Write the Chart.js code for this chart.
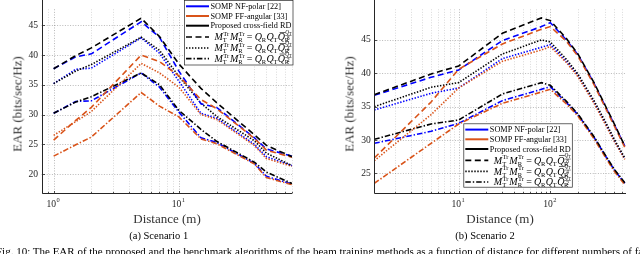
<!DOCTYPE html>
<html><head><meta charset="utf-8">
<script src="https://cdn.jsdelivr.net/npm/chart.js@4.4.1/dist/chart.umd.min.js"></script>
<style>
html,body{margin:0;padding:0;background:#fff;overflow:hidden;width:640px;height:254px;}
#wrap{position:relative;width:640px;height:254px;}
canvas{position:absolute;top:0;}
.t{position:absolute;white-space:nowrap;color:#333;line-height:1;font-family:"Liberation Serif","DejaVu Serif",serif;font-weight:400;}
.rot{transform:translate(-50%,-50%) rotate(-90deg);}
.ctr{transform:translate(-50%,-50%);}
</style></head><body>
<div id="wrap">
<canvas id="c1" width="320" height="254" style="left:0;width:320px;height:254px"></canvas>
<canvas id="c2" width="320" height="254" style="left:320px;width:320px;height:254px"></canvas>
<div class="t rot" style="left:16.5px;top:103.5px;font-size:13px">EAR (bits/sec/Hz)</div>
<div class="t rot" style="left:349px;top:103.5px;font-size:13px">EAR (bits/sec/Hz)</div>
<div class="t ctr" style="left:167px;top:217.5px;font-size:13px">Distance (m)</div>
<div class="t ctr" style="left:500px;top:217.5px;font-size:13px">Distance (m)</div>
<div class="t ctr" style="left:158.7px;top:236px;font-size:10.5px;color:#000">(a) Scenario 1</div>
<div class="t ctr" style="left:485px;top:236px;font-size:10.5px;color:#000">(b) Scenario 2</div>
<div class="t" style="left:-4px;top:246px;font-size:11px;color:#000">Fig. 10: The EAR of the proposed and the benchmark algorithms of the beam training methods as a function of distance for different numbers of fail</div>
</div>
<script>
// ---------- DATA ----------
const x1 = [1, 1.5, 2, 5, 7, 10, 15, 20, 40, 50, 80];
const s1NfDash = [37.7, 39.7, 40.2, 45.6, 43.0, 37.3, 31.8, 31.2, 26.1, 24.2, 23.0];
const s1FfDash = [25.7, 29.0, 31.2, 40.0, 38.9, 36.5, 32.5, 31.0, 26.0, 24.0, 22.8];
const s1RdDash = [37.7, 39.9, 41.2, 46.2, 43.1, 38.5, 34.4, 32.0, 26.6, 24.8, 22.9];
const s1NfDot  = [35.2, 37.6, 37.8, 42.9, 40.3, 35.6, 30.2, 29.4, 25.0, 22.9, 21.4];
const s1FfDot  = [26.5, 28.8, 30.5, 38.6, 37.0, 34.6, 30.0, 29.2, 24.8, 22.6, 21.3];
const s1RdDot  = [35.2, 37.3, 38.4, 43.0, 40.8, 36.4, 31.9, 29.7, 25.6, 23.5, 21.4];
const s1NfDD   = [30.2, 32.2, 32.3, 37.0, 34.6, 30.4, 26.1, 25.3, 21.8, 19.6, 18.3];
const s1FfDD   = [23.0, 24.9, 26.2, 33.7, 31.4, 29.6, 25.9, 25.1, 21.7, 19.4, 18.2];
const s1RdDD   = [30.2, 32.1, 33.0, 37.0, 35.0, 30.7, 27.5, 25.5, 22.0, 20.3, 18.4];

const x2 = [1.2, 5, 10, 30, 80, 100, 150, 200, 300, 400, 500, 650];
const s2NfDash = [36.7, 39.4, 40.5, 44.9, 47.0, 47.6, 45.0, 42.8, 38.5, 35.0, 32.3, 29.1];
const s2FfDash = [27.3, 35.7, 40.6, 44.4, 46.6, 47.0, 44.8, 42.6, 38.3, 34.8, 32.1, 28.9];
const s2RdDash = [36.8, 39.9, 41.1, 46.0, 48.3, 47.9, 45.2, 42.9, 38.6, 35.1, 32.4, 29.1];
const s2NfDot  = [34.5, 37.0, 37.8, 42.2, 43.9, 44.3, 41.8, 39.7, 35.7, 32.5, 29.9, 27.2];
const s2FfDot  = [26.9, 33.8, 37.8, 41.8, 43.5, 44.0, 41.6, 39.5, 35.5, 32.3, 29.8, 27.1];
const s2RdDot  = [35.0, 37.9, 38.6, 42.9, 45.0, 44.7, 42.1, 39.9, 35.9, 32.7, 30.1, 27.3];
const s2NfDD   = [29.5, 31.3, 32.5, 35.9, 37.6, 38.0, 35.6, 33.8, 30.4, 27.6, 25.5, 23.5];
const s2FfDD   = [23.5, 29.5, 32.4, 35.5, 37.2, 37.6, 35.4, 33.6, 30.2, 27.4, 25.3, 23.3];
const s2RdDD   = [30.1, 32.4, 33.0, 36.9, 38.6, 38.2, 35.8, 33.9, 30.5, 27.7, 25.6, 23.6];

const yTicks1 = [20, 25, 30, 35, 40, 45];
const yTicks2 = [25, 30, 35, 40, 45];
const xMajor1 = [1, 10];
const xMajor2 = [10, 100];
const xTickExp1 = ['0', '1'];
const xTickExp2 = ['1', '2'];
const legendLabels = ['SOMP NF-polar [22]', 'SOMP FF-angular [33]', 'Proposed cross-field RD'];
const legendDen = ['8', '4', '2'];

// ---------- STYLE ----------
const FONT = '"Liberation Serif","DejaVu Serif",serif';
const COL = {nf: '#0000ff', ff: '#d95319', rd: '#000000'};
const DASH = {dash: [6, 3.5], dot: [1.4, 1.6], dd: [5.5, 2, 1.4, 2]};
const AX = '#262626';

function ds(xs, ys, col, style) {
  return {data: xs.map((x, i) => ({x: x, y: ys[i]})), borderColor: col, borderWidth: 1.6,
    borderDash: DASH[style], pointRadius: 0, fill: false, tension: 0, borderCapStyle: 'butt'};
}
function minorTicks(min, max) {
  const out = [];
  for (let d = Math.floor(Math.log10(min)); d <= Math.ceil(Math.log10(max)); d++) {
    for (let k = 1; k <= 9; k++) { const v = k * Math.pow(10, d); if (v >= min - 1e-9 && v <= max + 1e-9) out.push(v); }
  }
  return out;
}

function drawFormula(ctx, x, y, den) {
  const b = 10, s = 6.5, t = 5.2;
  const base = y + 3.3;
  function txt(str, size, italic, dx, dy) {
    ctx.font = (italic ? 'italic ' : '') + size + 'px ' + FONT;
    ctx.fillText(str, x + dx, base + dy);
    return ctx.measureText(str).width;
  }
  ctx.fillStyle = '#000';
  ctx.textBaseline = 'alphabetic';
  let cx = 0, w1, w2;
  cx += txt('M', b, true, cx, 0);
  w1 = txt('Tr', s, false, cx + 0.4, -4.4);
  w2 = txt('T', s, false, cx, 2.1);
  cx += Math.max(w1 + 0.4, w2) + 0.9;
  cx += txt('M', b, true, cx, 0);
  w1 = txt('Tr', s, false, cx + 0.4, -4.4);
  w2 = txt('R', s, false, cx, 2.1);
  cx += Math.max(w1 + 0.4, w2) + 2.2;
  cx += txt('=', b, false, cx, 0) + 2.2;
  cx += txt('Q', b, true, cx, 0) - 0.3; cx += txt('R', s, false, cx, 2.1) + 0.5;
  cx += txt('Q', b, true, cx, 0) - 0.3; cx += txt('T', s, false, cx, 2.1) + 0.5;
  const qw = txt('Q', b, true, cx, 0);
  ctx.fillRect(x + cx + 1.8, base - 8.3, qw - 1.5, 0.6);
  cx += qw - 0.3;
  w2 = txt('R', s, false, cx, 2.1);
  const fx = cx + 0.4;
  let nw = txt('Q', t, true, fx, -6.2);
  nw += txt('T', t * 0.8, false, fx + nw, -5.2);
  ctx.fillRect(x + fx, base - 4.8, nw, 0.45);
  ctx.font = t + 'px ' + FONT;
  const dw = ctx.measureText(den).width;
  txt(den, t, false, fx + (nw - dw) / 2, -0.4);
}

function drawLegend(ctx, L) {
  ctx.save();
  ctx.fillStyle = '#fff';
  ctx.fillRect(L.x, L.y, L.w, L.h);
  ctx.strokeStyle = AX; ctx.lineWidth = 0.7; ctx.setLineDash([]);
  ctx.strokeRect(L.x + 0.5, L.y + 0.5, L.w - 1, L.h - 1);
  // size text so the longest label fills the box like the reference
  ctx.font = '10px ' + FONT;
  const wLong = ctx.measureText(legendLabels[2]).width;
  const fs = Math.min(12, 10 * 81 / wLong);
  const rows = [6.3, 16.0, 25.7, 37.0, 48.0, 58.7];
  const sampleCols = [COL.nf, COL.ff, COL.rd, '#000', '#000', '#000'];
  const sampleDash = [[], [], [], DASH.dash, DASH.dot, DASH.dd];
  for (let i = 0; i < 6; i++) {
    const yy = L.y + rows[i];
    ctx.strokeStyle = sampleCols[i]; ctx.lineWidth = i < 3 ? 2 : 1.7;
    ctx.setLineDash(sampleDash[i]);
    ctx.beginPath(); ctx.moveTo(L.x + 2, yy); ctx.lineTo(L.x + 25, yy); ctx.stroke();
    ctx.setLineDash([]);
    if (i < 3) {
      ctx.fillStyle = '#000'; ctx.font = fs.toFixed(2) + 'px ' + FONT; ctx.textBaseline = 'middle';
      ctx.fillText(legendLabels[i], L.x + 26.5, yy + 0.4);
    } else {
      drawFormula(ctx, L.x + 30.5, yy, legendDen[i - 3]);
    }
  }
  ctx.restore();
}

const axesPlugin = {
  id: 'matlabAxes',
  beforeDatasetsDraw(chart) {
    const o = chart.options.plugins.matlabAxes;
    const ctx = chart.ctx, a = chart.chartArea, xs = chart.scales.x, ys = chart.scales.y;
    ctx.save();
    ctx.lineWidth = 1; ctx.setLineDash([1, 1.6]);
    o.yTicks.forEach(v => {
      const p = Math.round(ys.getPixelForValue(v)) + 0.5;
      ctx.strokeStyle = 'rgba(0,0,0,0.28)';
      ctx.beginPath(); ctx.moveTo(a.left, p); ctx.lineTo(a.right, p); ctx.stroke();
    });
    minorTicks(o.xMin, o.xMax).forEach(v => {
      const p = Math.round(xs.getPixelForValue(v)) + 0.5;
      const major = o.xMajor.some(m => Math.abs(m - v) < 1e-9);
      ctx.strokeStyle = major ? 'rgba(0,0,0,0.28)' : 'rgba(0,0,0,0.15)';
      ctx.beginPath(); ctx.moveTo(p, a.top); ctx.lineTo(p, a.bottom); ctx.stroke();
    });
    ctx.restore();
  },
  afterDatasetsDraw(chart) {
    const o = chart.options.plugins.matlabAxes;
    const ctx = chart.ctx, a = chart.chartArea, xs = chart.scales.x, ys = chart.scales.y;
    ctx.save();
    ctx.setLineDash([]);
    ctx.strokeStyle = AX; ctx.lineWidth = 1;
    const L = Math.round(a.left) + 0.5, B = Math.round(a.bottom) + 0.5;
    ctx.beginPath(); ctx.moveTo(L, 0); ctx.lineTo(L, B); ctx.lineTo(a.right, B); ctx.stroke();
    ctx.lineWidth = 0.8;
    o.yTicks.forEach(v => {
      const p = Math.round(ys.getPixelForValue(v)) + 0.5;
      ctx.beginPath(); ctx.moveTo(L, p); ctx.lineTo(L + 2.5, p); ctx.stroke();
    });
    minorTicks(o.xMin, o.xMax).forEach(v => {
      const p = Math.round(xs.getPixelForValue(v)) + 0.5;
      const major = o.xMajor.some(m => Math.abs(m - v) < 1e-9);
      ctx.beginPath(); ctx.moveTo(p, B); ctx.lineTo(p, B - (major ? 2.5 : 1.6)); ctx.stroke();
    });
    ctx.fillStyle = AX; ctx.textBaseline = 'alphabetic';
    o.xMajor.forEach((v, i) => {
      const p = xs.getPixelForValue(v);
      ctx.font = '9.6px ' + FONT;
      const w = ctx.measureText('10').width;
      ctx.font = '6.4px ' + FONT;
      const we = ctx.measureText(o.xExp[i]).width;
      const x0 = p - (w + we + 0.5) / 2 - 0.5;
      ctx.font = '9.6px ' + FONT;
      ctx.fillText('10', x0, a.bottom + 14.3);
      ctx.font = '6.4px ' + FONT;
      ctx.fillText(o.xExp[i], x0 + w + 0.5, a.bottom + 9.2);
    });
    ctx.restore();
    drawLegend(ctx, o.legend);
  }
};

function makeChart(id, xs, sets, opt) {
  const datasets = [
    ds(xs, sets.rdDash, COL.rd, 'dash'), ds(xs, sets.ffDash, COL.ff, 'dash'), ds(xs, sets.nfDash, COL.nf, 'dash'),
    ds(xs, sets.rdDot, COL.rd, 'dot'), ds(xs, sets.ffDot, COL.ff, 'dot'), ds(xs, sets.nfDot, COL.nf, 'dot'),
    ds(xs, sets.rdDD, COL.rd, 'dd'), ds(xs, sets.ffDD, COL.ff, 'dd'), ds(xs, sets.nfDD, COL.nf, 'dd')
  ];
  return new Chart(document.getElementById(id), {
    type: 'line',
    data: {datasets},
    options: {
      responsive: false, animation: false, devicePixelRatio: 1,
      layout: {padding: {left: 0, right: opt.padRight, top: 0, bottom: 0}},
      plugins: {legend: {display: false}, tooltip: {enabled: false}, matlabAxes: opt.axes},
      scales: {
        x: {type: 'logarithmic', min: opt.xMin, max: opt.xMax,
          ticks: {display: false}, grid: {display: false, drawTicks: false}, border: {display: false},
          afterFit: s => { s.height = opt.xH; }},
        y: {type: 'linear', min: opt.yMin, max: opt.yMax,
          afterBuildTicks: s => { s.ticks = opt.yTicks.map(v => ({value: v})); },
          ticks: {font: {family: FONT, size: 9.6}, color: AX, padding: 3.5, callback: v => String(v)},
          grid: {display: false, drawTicks: false}, border: {display: false},
          afterFit: s => { s.width = opt.yW; }}
      }
    },
    plugins: [axesPlugin]
  });
}

makeChart('c1', x1,
  {nfDash: s1NfDash, ffDash: s1FfDash, rdDash: s1RdDash, nfDot: s1NfDot, ffDot: s1FfDot, rdDot: s1RdDot,
   nfDD: s1NfDD, ffDD: s1FfDD, rdDD: s1RdDD},
  {xMin: 0.8, xMax: 80, yMin: 16.8, yMax: 47.7, yTicks: yTicks1, padRight: 28, xH: 61, yW: 41.5,
   axes: {xMin: 0.8, xMax: 80, xMajor: xMajor1, xExp: xTickExp1, yTicks: yTicks1,
          legend: {x: 184, y: 0, w: 109.5, h: 65.5}}});

makeChart('c2', x2,
  {nfDash: s2NfDash, ffDash: s2FfDash, rdDash: s2RdDash, nfDot: s2NfDot, ffDot: s2FfDot, rdDot: s2RdDot,
   nfDD: s2NfDD, ffDD: s2FfDD, rdDD: s2RdDD},
  {xMin: 1.2, xMax: 670, yMin: 22.1, yMax: 49.6, yTicks: yTicks2, padRight: 14, xH: 61.3, yW: 54.3,
   axes: {xMin: 1.2, xMax: 670, xMajor: xMajor2, xExp: xTickExp2, yTicks: yTicks2,
          legend: {x: 143.3, y: 123.3, w: 109.5, h: 64.4}}});
</script>
</body></html>
